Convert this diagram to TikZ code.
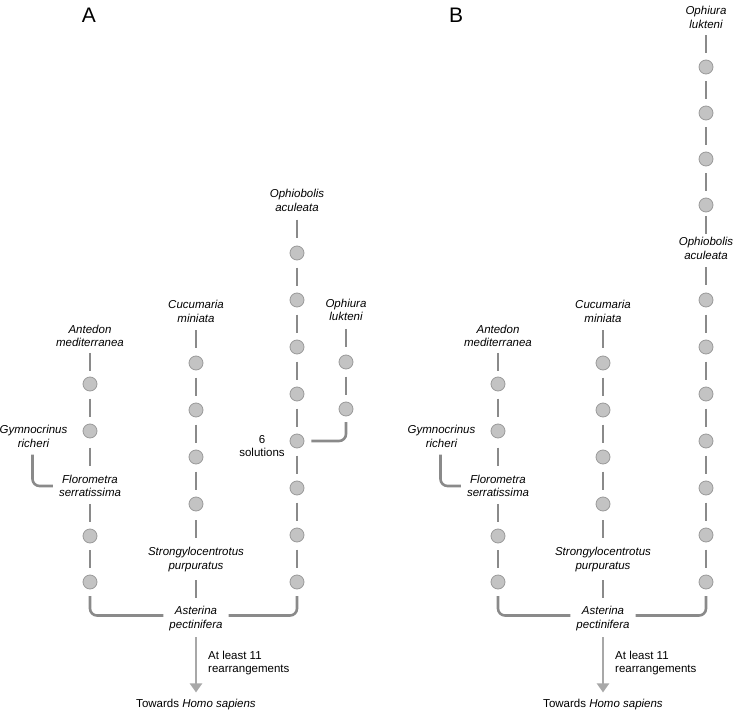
\documentclass[tikz,border=0pt]{standalone}
\usepackage{fontspec}
\setmainfont{Liberation Sans}
\usetikzlibrary{calc,arrows.meta}
\definecolor{lgray}{HTML}{8A8A8A}
\definecolor{cfill}{HTML}{C3C3C3}
\definecolor{cdraw}{HTML}{9A9A9A}
\definecolor{agray}{HTML}{A8A8A8}
\tikzset{
 lbl/.style={font=\itshape\fontsize{11.5}{13.5}\selectfont, align=center, inner sep=0pt},
 txt/.style={font=\fontsize{11.5}{13.5}\selectfont, align=left, inner sep=0pt},
 dot/.style={circle, fill=cfill, draw=cdraw, line width=0.8pt, minimum size=14pt, inner sep=0pt},
 seg/.style={draw=lgray, line width=2.6pt},
 brk/.style={draw=lgray, line width=2.6pt, rounded corners=7pt},
 arr/.style={draw=agray, line width=2.6pt, -{Triangle[length=9pt,width=12pt]}},
 panel/.style={font=\fontsize{21}{21}\selectfont, inner sep=0pt}
}
\newcommand\dashseg[2]{\draw[seg] ($(#1.south)!0.5!(#2.north)+(0,-9)$) -- ($(#1.south)!0.5!(#2.north)+(0,9)$);}
\begin{document}
\begin{tikzpicture}[x=1pt,y=-1pt]
\useasboundingbox (0,0) rectangle (734,712);
\node[panel] (pA) at (89,15) {A};
\node[panel] (pB) at (456,15) {B};
\foreach \p/\xa/\xb in {a/90/196,b/498/603}{
  % column 1
  \node[lbl] (ant\p) at (\xa,336) {Antedon\\mediterranea};
  \node[dot] (\p1c1) at (\xa,384) {};
  \node[dot] (\p1c2) at (\xa,431) {};
  \node[lbl] (flo\p) at (\xa,486) {Florometra\\serratissima};
  \node[dot] (\p1c3) at (\xa,536) {};
  \node[dot] (\p1c4) at (\xa,582) {};
  \node[lbl] (gym\p) at (\xa-56.5,436.5) {Gymnocrinus\\richeri};
  \dashseg{ant\p}{\p1c1}
  \dashseg{\p1c1}{\p1c2}
  \dashseg{\p1c2}{flo\p}
  \dashseg{flo\p}{\p1c3}
  \dashseg{\p1c3}{\p1c4}
  \draw[brk] ([yshift=-7pt,xshift=-1pt]gym\p.south) |- ([xshift=-6pt]flo\p.west);
  % column 2
  \node[lbl] (cuc\p) at (\xb,311.5) {Cucumaria\\miniata};
  \foreach \k in {1,...,4}{\pgfmathsetmacro\yy{363+47*(\k-1)}\node[dot] (\p2c\k) at (\xb,\yy) {};}
  \node[lbl] (str\p) at (\xb,559.5) {Strongylocentrotus\\purpuratus};
  \node[lbl] (ast\p) at (\xb,618.5) {Asterina\\pectinifera};
  \dashseg{cuc\p}{\p2c1}
  \foreach \k in {2,...,4}{\pgfmathtruncatemacro\kp{\k-1}\dashseg{\p2c\kp}{\p2c\k}}
  \dashseg{\p2c4}{str\p}
  \dashseg{str\p}{ast\p}
  \node[txt, anchor=west] (rea\p) at (\xb+12,663) {At least 11\\rearrangements};
  \node[txt] (tow\p) at (\xb,705) {Towards \textit{Homo sapiens}};
  \draw[arr, shorten >=7pt] ([yshift=-6.5pt]ast\p.south) -- (tow\p.north);
  \draw[brk] ([yshift=-14pt]\p1c4.center) |- ([shift={(-6pt,3pt)}]ast\p.west);
}
% panel A, column 3 and 4
\node[lbl] (oba) at (297,200.5) {Ophiobolis\\aculeata};
\foreach \k in {1,...,8}{\pgfmathsetmacro\yy{253+47*(\k-1)}\node[dot] (a3c\k) at (297,\yy) {};}
\dashseg{oba}{a3c1}
\foreach \k in {2,...,8}{\pgfmathtruncatemacro\kp{\k-1}\dashseg{a3c\kp}{a3c\k}}
\draw[brk] ([yshift=-14pt]a3c8.center) |- ([shift={(6pt,3pt)}]asta.east);
\node[lbl] (opa) at (346,310) {Ophiura\\lukteni};
\node[dot] (a4c1) at (346,362) {};
\node[dot] (a4c2) at (346,409) {};
\dashseg{opa}{a4c1}
\dashseg{a4c1}{a4c2}
\draw[brk] ([yshift=-13pt]a4c2.center) |- ([xshift=7pt]a3c5.east);
\node[txt, align=center] (sola) at (262,446) {6\\solutions};
% panel B, column 3
\node[lbl] (opb) at (706,17.5) {Ophiura\\lukteni};
\foreach \k in {1,...,4}{\pgfmathsetmacro\yy{67+46*(\k-1)}\node[dot] (b4c\k) at (706,\yy) {};}
\node[lbl] (obb) at (706,248.5) {Ophiobolis\\aculeata};
\foreach \k in {1,...,7}{\pgfmathsetmacro\yy{582-47*(7-\k)}\node[dot] (b3c\k) at (706,\yy) {};}
\dashseg{opb}{b4c1}
\foreach \k in {2,...,4}{\pgfmathtruncatemacro\kp{\k-1}\dashseg{b4c\kp}{b4c\k}}
\dashseg{b4c4}{obb}
\dashseg{obb}{b3c1}
\foreach \k in {2,...,7}{\pgfmathtruncatemacro\kp{\k-1}\dashseg{b3c\kp}{b3c\k}}
\draw[brk] ([yshift=-14pt]b3c7.center) |- ([shift={(6pt,3pt)}]astb.east);
\end{tikzpicture}
\end{document}
